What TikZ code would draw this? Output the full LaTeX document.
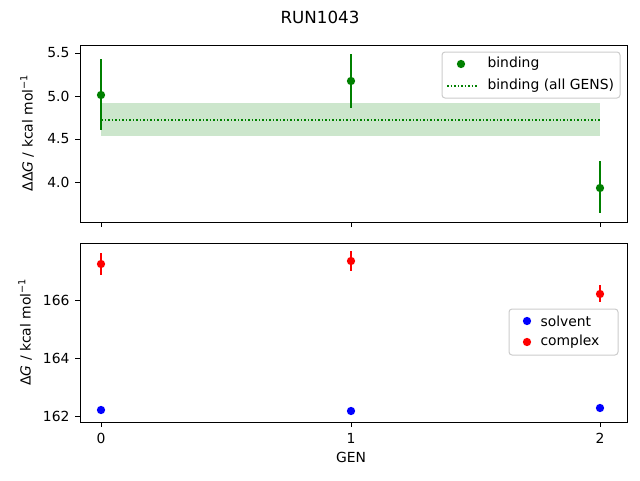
\documentclass[tikz,border=0pt]{standalone}
\usepackage{fontspec}
\setmainfont{DejaVu Sans}
\usetikzlibrary{positioning}
\definecolor{mplgreen}{RGB}{0,128,0}
\definecolor{mplblue}{RGB}{0,0,255}
\definecolor{mplred}{RGB}{255,0,0}
\definecolor{legedge}{gray}{0.8}

\begin{document}
\begin{tikzpicture}[
		x=1pt, y=-1pt,
		tick/.style={font=\fontsize{13.9}{16}\selectfont},
		frame/.style={draw, line width=1pt},
		errbar/.style={line width=2pt},
		marker/.style={circle, inner sep=0pt, minimum size=8.3pt},
		legbox/.style={draw=legedge, fill=white, fill opacity=0.8, rounded corners=3pt, line width=1pt}
		]
		\useasboundingbox (0,0) rectangle (640,480);
		% Title
		\node[font=\fontsize{16.7}{19}\selectfont] (title) at (320,17) {RUN1043};
		
		% Top axes
		\fill[mplgreen, opacity=0.2] (101,103) rectangle (600,136);
		\draw[mplgreen, dotted, line width=1.5pt] (101,120) -- (600,120);
		\foreach \x/\y/\lo/\hi in {101/95/59/130, 351/81/54/108, 600/188/161/213} {
			\draw[errbar, mplgreen] (\x,\lo) -- (\x,\hi);
			\node[marker, fill=mplgreen] at (\x,\y) {};
		}
		\draw[frame] (80,45) rectangle (627,222);
		\foreach \y/\t in {53/5.5, 96/5.0, 139/4.5, 182/4.0} {
			\draw (80,\y) -- (75,\y);
			\node[tick, anchor=east] at (73,\y) {\t};
		}
		\foreach \x in {101, 351, 600} \draw (\x,222) -- (\x,227);
		\node[tick, rotate=90] (ylabtop) at (27,133) {ΔΔ\textit{G} / kcal mol\textsuperscript{−1}};
		% Legend top
		\draw[legbox] (442,52) rectangle (620,98);
		\node[marker, fill=mplgreen] (legbind) at (461,64) {};
		\node[tick, anchor=west] at (484,64) {binding};
		\draw[mplgreen, dotted, line width=1.5pt] (447,86) -- (477,86);
		\node[tick, anchor=west] at (484,86) {binding (all GENS)};
		
		% Bottom axes
		\foreach \x/\y/\lo/\hi in {101/264/253/275, 351/261/251/271, 600/294/285/302} {
			\draw[errbar, mplred] (\x,\lo) -- (\x,\hi);
			\node[marker, fill=mplred] at (\x,\y) {};
		}
		\foreach \x/\y in {101/410, 351/411, 600/408}
			\node[marker, fill=mplblue] at (\x,\y) {};
		\draw[frame] (80,243) rectangle (627,422);
		\foreach \y/\t in {300/166, 358/164, 416/162} {
			\draw (80,\y) -- (75,\y);
			\node[tick, anchor=east] at (73,\y) {\t};
		}
		\foreach \x/\t in {101/0, 351/1, 600/2} {
			\draw (\x,422) -- (\x,427);
			\node[tick] at (\x,438) {\t};
		}
		\node[tick] (xlab) at (351,457) {GEN};
		\node[tick, rotate=90] (ylabbot) at (25,332) {Δ\textit{G} / kcal mol\textsuperscript{−1}};
		% Legend bottom
		\draw[legbox] (509,309) rectangle (618,355);
		\node[marker, fill=mplblue] (legsolv) at (527,321) {};
		\node[tick, anchor=west] at (537,321) {solvent};
		\node[marker, fill=mplred] (legcomp) at (527,342) {};
		\node[tick, anchor=west] at (537,342) {complex};
	\end{tikzpicture}
\end{document}
